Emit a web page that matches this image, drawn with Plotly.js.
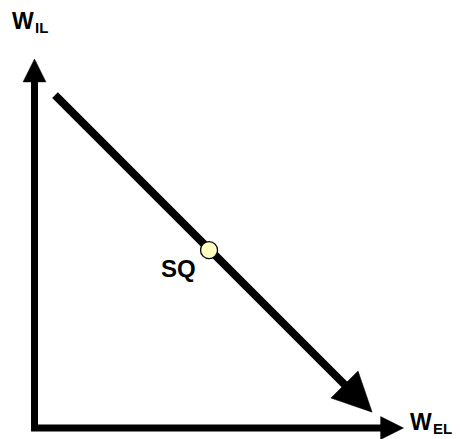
<!DOCTYPE html>
<html>
<head>
<meta charset="utf-8">
<script src="https://cdn.plot.ly/plotly-3.0.1.min.js"></script>
<style>html,body{margin:0;padding:0;background:#fff;}#chart{width:460px;height:439px;}</style>
</head>
<body>
<div id="chart"></div>
<script>
// Conceptual values (arbitrary welfare units)
const origin = [0, 0];
const axisMaxX = 10;            // W_EL axis arrow tip
const axisMaxY = 10;            // W_IL axis arrow tip
const frontierX = [0.556, 9.15]; // start, arrow tip
const frontierY = [9.02, 0.43];
const sqX = [4.73];
const sqY = [4.82];
const sqLabel = ["SQ"];
const axisLetter = "W";
const axisSubs = ["EL", "IL"];   // x axis, y axis

const axisHeadLen = 0.62, axisHeadHalf = 0.31;
const diagHeadLen = 1.06, diagHeadHalf = 0.52;

function head(tx, ty, dx, dy, L, H) {
  const n = Math.hypot(dx, dy); dx /= n; dy /= n;
  const bx = tx - L * dx, by = ty - L * dy;
  const px = -dy, py = dx;
  return {x: [tx, bx + H * px, bx - H * px, tx], y: [ty, by + H * py, by - H * py, ty]};
}

const traces = [];
// axes polyline
traces.push({
  x: [origin[0], origin[0], origin[0] + axisMaxX - axisHeadLen * 0.8],
  y: [origin[1] + axisMaxY - axisHeadLen * 0.8, origin[1], origin[1]],
  mode: 'lines', line: {color: '#000', width: 7}, hoverinfo: 'skip', showlegend: false
});
const hy = head(origin[0], axisMaxY, 0, 1, axisHeadLen, axisHeadHalf);
const hx = head(axisMaxX, origin[1], 1, 0, axisHeadLen, axisHeadHalf);
[hy, hx].forEach(h => traces.push({x: h.x, y: h.y, mode: 'lines', fill: 'toself', fillcolor: '#000',
  line: {color: '#000', width: 0.5}, hoverinfo: 'skip', showlegend: false}));
// frontier
const ddx = frontierX[1] - frontierX[0], ddy = frontierY[1] - frontierY[0];
const dn = Math.hypot(ddx, ddy);
traces.push({
  x: [frontierX[0], frontierX[1] - diagHeadLen * 0.8 * ddx / dn],
  y: [frontierY[0], frontierY[1] - diagHeadLen * 0.8 * ddy / dn],
  mode: 'lines', line: {color: '#000', width: 8}, hoverinfo: 'skip', showlegend: false
});
const hd = head(frontierX[1], frontierY[1], ddx, ddy, diagHeadLen, diagHeadHalf);
traces.push({x: hd.x, y: hd.y, mode: 'lines', fill: 'toself', fillcolor: '#000',
  line: {color: '#000', width: 0.5}, hoverinfo: 'skip', showlegend: false});
// status quo point
traces.push({x: sqX, y: sqY, mode: 'markers',
  marker: {size: 17, color: '#FFFFC0', line: {color: '#000', width: 1.3}},
  hoverinfo: 'skip', showlegend: false});

const fontFam = '"Liberation Sans", Arial, sans-serif';
const big = {family: fontFam, size: 23, color: '#000'};
const small = {family: fontFam, size: 15, color: '#000'};
function ann(x, y, text, font, xanchor) {
  return {x: x, y: y, xref: 'x', yref: 'y', xanchor: xanchor || 'left', yanchor: 'middle',
          showarrow: false, text: '<b>' + text + '</b>', font: font};
}
const layout = {
  width: 460, height: 439,
  margin: {l: 0, r: 0, t: 0, b: 0},
  paper_bgcolor: '#fff', plot_bgcolor: '#fff',
  xaxis: {range: [-0.935, 11.531], visible: false, fixedrange: true},
  yaxis: {range: [-0.298, 11.599], visible: false, fixedrange: true},
  annotations: [
    ann(10.12, 0.15, axisLetter, big),
    ann(10.74, -0.02, axisSubs[0], small),
    ann(-0.66, 11.04, axisLetter, big),
    ann(-0.05, 10.85, axisSubs[1], small),
    ann(3.90, 4.32, sqLabel[0], {family: fontFam, size: 24, color: '#000'}, 'center')
  ]
};
Plotly.newPlot('chart', traces, layout, {staticPlot: true, displayModeBar: false});
</script>
</body>
</html>
